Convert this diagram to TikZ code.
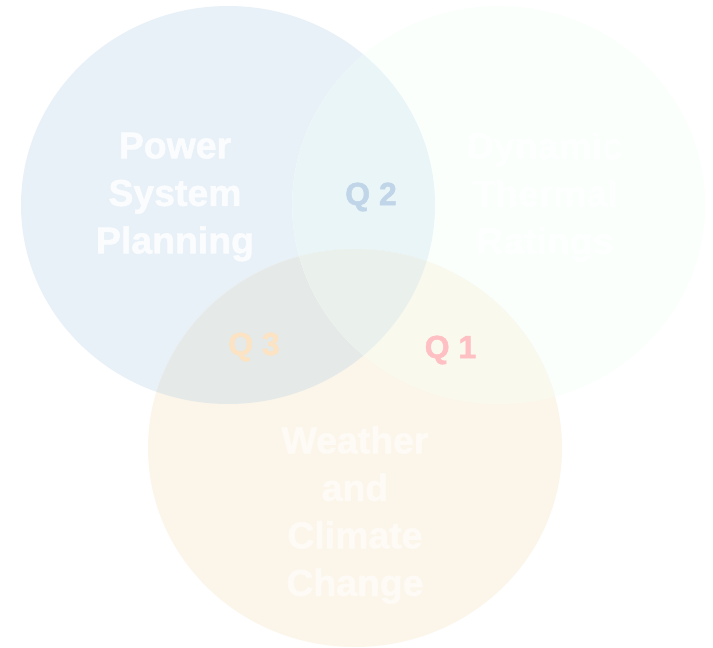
\documentclass[tikz,border=0pt]{standalone}
\usepackage{fontspec}
\setmainfont[BoldFeatures={FakeBold=1.6}]{Liberation Sans}
\definecolor{cblue}{HTML}{E8F1F8}
\definecolor{cgreen}{HTML}{FAFFFC}
\definecolor{corange}{HTML}{FCF6EA}
\definecolor{cbg}{HTML}{EAF5F8}
\definecolor{cbo}{HTML}{E5EAE9}
\definecolor{cgo}{HTML}{F9F9EE}
\definecolor{cbgo}{HTML}{EAF1ED}
\definecolor{tblue}{HTML}{FBFCFE}
\definecolor{tgreen}{HTML}{FDFFFE}
\definecolor{torange}{HTML}{FEFBF6}
\definecolor{qblue}{HTML}{C0D5E8}
\definecolor{qred}{HTML}{FFC0C4}
\definecolor{qorange}{HTML}{FBE3C3}
\tikzset{
 blueshape/.style={insert path={(228,205) ellipse [x radius=207,y radius=199]}},
 greenshape/.style={insert path={(498.7,205) ellipse [x radius=206.5,y radius=199]}},
 orangeshape/.style={insert path={(355,448) ellipse [x radius=207,y radius=199]}},
 lab/.style={font=\fontsize{37.4pt}{47.5pt}\selectfont\bfseries,align=center,inner sep=0pt},
 qlab/.style={font=\fontsize{32pt}{36pt}\selectfont\bfseries,inner sep=0pt},
}
\begin{document}
\begin{tikzpicture}[x=1pt,y=-1pt]
\useasboundingbox (0,0) rectangle (713,648);
\fill[white] (0,0) rectangle (713,648);
\fill[cblue,blueshape];
\fill[cgreen,greenshape];
\fill[corange,orangeshape];
\begin{scope}
 \clip[blueshape];
 \fill[cbg,greenshape];
 \fill[cbo,orangeshape];
 \clip[greenshape];
 \fill[cbgo,orangeshape];
\end{scope}
\begin{scope}
 \clip[greenshape];
 \clip[orangeshape];
 \path[fill=cgo] (0,0) rectangle (713,648);
 \fill[cbgo,blueshape];
\end{scope}
\node[lab,text=tblue] (t1) at (175,197) {Power\\System\\Planning};
\node[lab,text=tgreen] (t2) at (545,197) {Dynamic\\Thermal\\Ratings};
\node[lab,text=torange] (t3) at (355,515) {Weather\\and\\Climate\\Change};
\node[qlab,text=qblue] (q2) at (371,197) {Q 2};
\node[qlab,text=qred] (q1) at (450.5,350) {Q 1};
\node[qlab,text=qorange] (q3) at (254,347) {Q 3};
\end{tikzpicture}
\end{document}
